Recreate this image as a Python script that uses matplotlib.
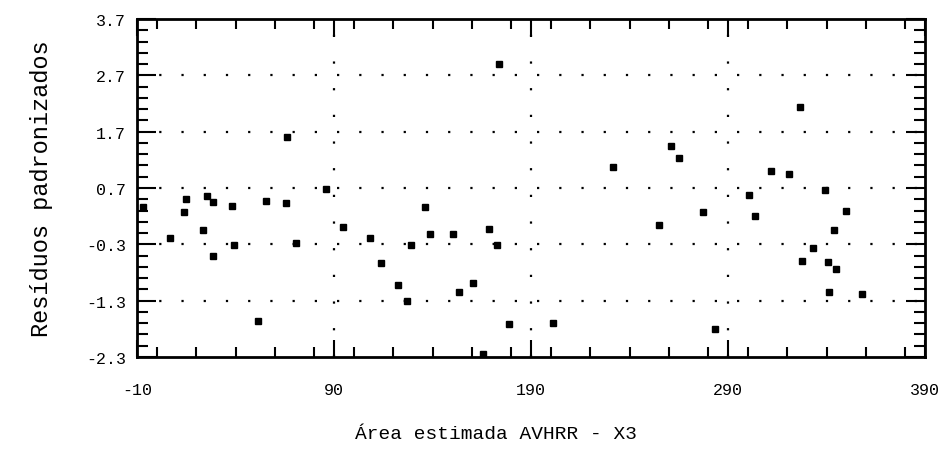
import numpy as np
import matplotlib.pyplot as plt
from matplotlib.ticker import MultipleLocator, FixedLocator

# Área estimada AVHRR (X3) e resíduos padronizados
area_x3 = [-6.8, 6.8, 14.7, 14.0, 25.7, 28.4, 23.4, 38.1, 28.7, 39.4,
           55.5, 65.6, 66.3, 51.3, 70.6, 85.8, 94.7,
           108.3, 128.9, 113.7, 122.6, 126.9, 136.2, 138.7, 150.3,
           168.8, 172.6, 173.8, 153.6, 160.7, 178.8, 165.5, 201.0,
           231.8, 255.1, 260.9, 265.1, 277.5, 283.4,
           300.5, 303.7, 311.7, 321.1, 326.5, 333.0, 327.4,
           339.2, 340.9, 341.5, 343.8, 344.8, 349.9, 357.9]
residuos = [0.36, -0.18, 0.50, 0.27, 0.55, 0.45, -0.05, 0.38, -0.50, -0.31,
            0.47, 0.43, 1.60, -1.66, -0.28, 0.68, 0.01,
            -0.18, -0.31, -0.63, -1.02, -1.30, 0.36, -0.11, -0.11,
            -0.03, -0.31, 2.90, -1.15, -0.99, -1.72, -2.25, -1.69,
            1.07, 0.05, 1.45, 1.23, 0.28, -1.81,
            0.58, 0.20, 1.01, 0.95, 2.13, -0.37, -0.59,
            0.66, -0.61, -1.15, -0.04, -0.73, 0.29, -1.18]

x_ticks = [-10, 90, 190, 290, 390]
y_ticks = [-2.3, -1.3, -0.3, 0.7, 1.7, 2.7, 3.7]

plt.rcParams['font.family'] = ['Liberation Mono', 'DejaVu Sans Mono']

fig = plt.figure(figsize=(9.47, 4.60), dpi=100)
ax = fig.add_axes([0.1447, 0.2217, 0.8321, 0.7348])

# grade pontilhada
dotted = (0, (1, 9))
for y in y_ticks[1:-1]:
    ax.axhline(y, color='black', lw=1.6, ls=dotted, zorder=1)
for x in x_ticks[1:-1]:
    ax.axvline(x, color='black', lw=1.6, ls=(0, (1, 11)), zorder=1)

ax.plot(area_x3, residuos, ls='none', marker='s', ms=4.5,
        color='black', zorder=3)

ax.set_xlim(-10, 390)
ax.set_ylim(-2.3, 3.7)
ax.xaxis.set_major_locator(FixedLocator(x_ticks))
ax.yaxis.set_major_locator(FixedLocator(y_ticks))
ax.set_xticklabels([str(v) for v in x_ticks])
ax.set_yticklabels([f'{v:.1f}' for v in y_ticks])
ax.xaxis.set_minor_locator(MultipleLocator(20))
ax.yaxis.set_minor_locator(FixedLocator(np.arange(-2.3, 3.71, 0.2)))

ax.tick_params(which='both', direction='in', top=True, right=True,
               width=1.5, colors='black', labelsize=12)
ax.tick_params(axis='x', which='major', length=12, pad=18)
ax.tick_params(axis='x', which='minor', length=7)
ax.tick_params(axis='y', which='major', length=14, pad=8)
ax.tick_params(axis='y', which='minor', length=8)

for s in ax.spines.values():
    s.set_linewidth(2)

ax.set_xlabel('Área estimada AVHRR - X3', fontsize=14, labelpad=18)
ax.xaxis.set_label_coords(0.455, -0.2)
ax.set_ylabel('Resíduos padronizados', fontsize=17, labelpad=24)

fig.savefig('out.png', dpi=100)
